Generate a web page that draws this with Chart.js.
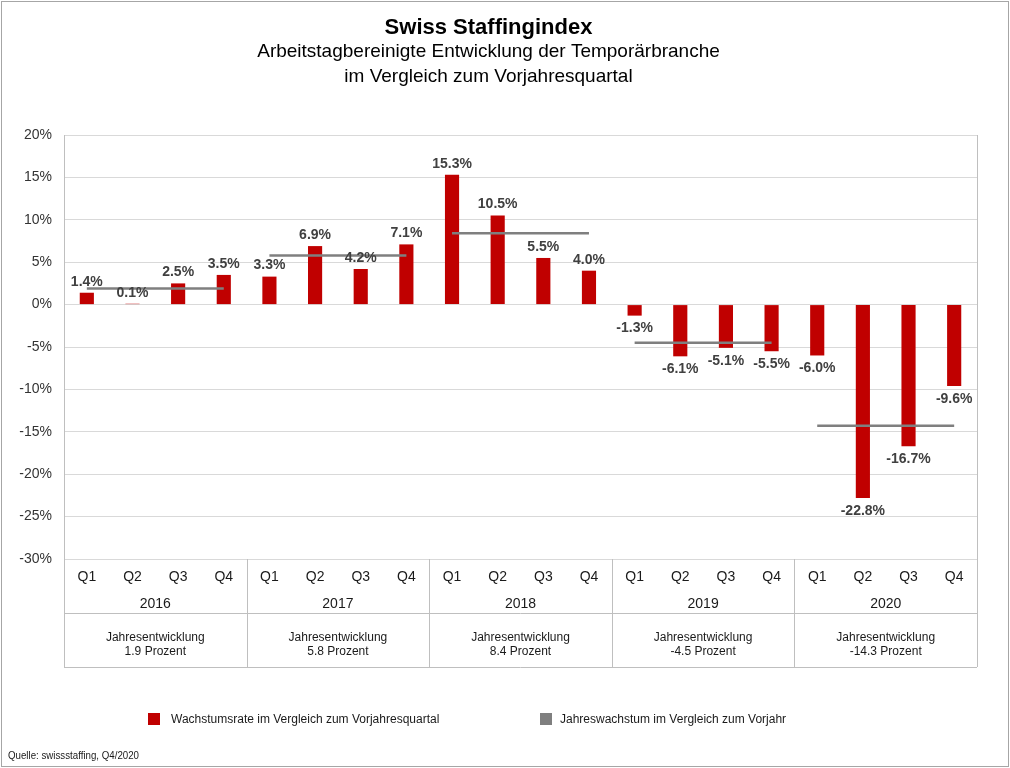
<!DOCTYPE html>
<html>
<head>
<meta charset="utf-8">
<script src="https://cdn.jsdelivr.net/npm/chart.js@4"></script>
<style>
  html, body { margin: 0; padding: 0; background: #ffffff; }
  #wrap { width: 1010px; height: 768px; position: relative; }
</style>
</head>
<body>
<div id="wrap"><canvas id="c" width="1010" height="768"></canvas></div>
<script>
// ---- Data ----
const quarters = ['Q1','Q2','Q3','Q4','Q1','Q2','Q3','Q4','Q1','Q2','Q3','Q4','Q1','Q2','Q3','Q4','Q1','Q2','Q3','Q4'];
const years = ['2016','2017','2018','2019','2020'];
const quarterlyGrowth = [1.4, 0.1, 2.5, 3.5, 3.3, 6.9, 4.2, 7.1, 15.3, 10.5, 5.5, 4.0, -1.3, -6.1, -5.1, -5.5, -6.0, -22.8, -16.7, -9.6];
const annualGrowth = [1.9, 5.8, 8.4, -4.5, -14.3];
const tableHeading = 'Jahresentwicklung';
const tableUnit = 'Prozent';
const barLabel = 'Wachstumsrate im Vergleich zum Vorjahresquartal';
const lineLabel = 'Jahreswachstum im Vergleich zum Vorjahr';
const titleText = 'Swiss Staffingindex';
const subtitleLines = ['Arbeitstagbereinigte Entwicklung der Temporärbranche', 'im Vergleich zum Vorjahresquartal'];
const sourceText = 'Quelle: swissstaffing, Q4/2020';
const yMin = -30, yMax = 20, yStep = 5;

const annualPerQuarter = quarters.map((q, i) => annualGrowth[Math.floor(i / 4)]);

const FONT = '"Liberation Sans", Arial, Helvetica, sans-serif';
const RED = '#C00000';
const GREY_LINE = '#7f7f7f';

const overlay = {
  id: 'overlay',
  afterDatasetsDraw(chart) {
    const ctx = chart.ctx;
    const meta = chart.getDatasetMeta(1);
    ctx.save();
    ctx.font = 'bold 14px ' + FONT;
    ctx.fillStyle = '#404040';
    ctx.textAlign = 'center';
    meta.data.forEach((bar, i) => {
      const v = quarterlyGrowth[i];
      const txt = v.toFixed(1) + '%';
      if (v >= 0) { ctx.textBaseline = 'bottom'; ctx.fillText(txt, bar.x, bar.y - 4); }
      else { ctx.textBaseline = 'top'; ctx.fillText(txt, bar.x, bar.y + 6); }
    });
    ctx.restore();
  },
  afterDraw(chart) {
    const ctx = chart.ctx;
    const ca = chart.chartArea;
    const x = chart.scales.x;
    const half = (x.getPixelForValue(1) - x.getPixelForValue(0)) / 2;
    const tableTop = ca.bottom + 54;
    const tableBottom = ca.bottom + 108;
    ctx.save();
    // separators and table
    ctx.strokeStyle = '#bfbfbf';
    ctx.lineWidth = 1;
    ctx.beginPath();
    for (let k = 0; k <= years.length; k++) {
      const px = Math.round(k < years.length ? x.getPixelForValue(k * 4) - half : x.getPixelForValue(quarters.length - 1) + half) + 0.5;
      ctx.moveTo(px, k === 0 || k === years.length ? ca.top : ca.bottom);
      ctx.lineTo(px, tableBottom);
    }
    ctx.moveTo(ca.left, Math.round(tableTop) + 0.5);
    ctx.lineTo(ca.right, Math.round(tableTop) + 0.5);
    ctx.moveTo(ca.left, Math.round(tableBottom) + 0.5);
    ctx.lineTo(ca.right, Math.round(tableBottom) + 0.5);
    ctx.stroke();

    // year labels and table text
    ctx.textAlign = 'center';
    ctx.textBaseline = 'middle';
    years.forEach((yr, k) => {
      const cx = (x.getPixelForValue(k * 4) + x.getPixelForValue(k * 4 + 3)) / 2;
      ctx.font = '14px ' + FONT;
      ctx.fillStyle = '#1a1a1a';
      ctx.fillText(yr, cx, ca.bottom + 45);
      ctx.font = '12px ' + FONT;
      ctx.fillStyle = '#1a1a1a';
      ctx.fillText(tableHeading, cx, tableTop + 25);
      ctx.fillText(annualGrowth[k].toFixed(1) + ' ' + tableUnit, cx, tableTop + 39);
    });

    // legend
    const ds = chart.data.datasets;
    const legendY = 719;
    const items = [
      { sx: 148, tx: 171, color: ds[1].backgroundColor, label: ds[1].label },
      { sx: 540, tx: 560, color: GREY_LINE, label: ds[0].label }
    ];
    ctx.textAlign = 'left';
    ctx.font = '12px ' + FONT;
    items.forEach(it => {
      ctx.fillStyle = it.color;
      ctx.fillRect(it.sx, legendY - 6, 12, 12);
      ctx.fillStyle = '#1a1a1a';
      ctx.fillText(it.label, it.tx, legendY + 1);
    });

    // source (condensed)
    ctx.font = '11px ' + FONT;
    ctx.fillStyle = '#1a1a1a';
    const w = ctx.measureText(sourceText).width;
    const sx = Math.min(1, 131 / w);
    ctx.save();
    ctx.translate(8, 756);
    ctx.scale(sx, 1);
    ctx.fillText(sourceText, 0, 0);
    ctx.restore();

    // outer frame
    ctx.strokeStyle = '#a6a6a6';
    ctx.strokeRect(1.5, 1.5, 1007, 765);
    ctx.restore();
  }
};

new Chart(document.getElementById('c'), {
  data: {
    labels: quarters,
    datasets: [
      {
        type: 'line',
        label: lineLabel,
        data: annualPerQuarter,
        borderColor: GREY_LINE,
        borderWidth: 2.5,
        pointRadius: 0,
        fill: false,
        order: 0,
        segment: {
          borderColor: c => (c.p0DataIndex % 4 === 3 ? 'rgba(0,0,0,0)' : GREY_LINE)
        }
      },
      {
        type: 'bar',
        label: barLabel,
        data: quarterlyGrowth,
        backgroundColor: RED,
        barPercentage: 0.31,
        categoryPercentage: 1.0,
        order: 1
      }
    ]
  },
  options: {
    responsive: false,
    animation: false,
    devicePixelRatio: 1,
    layout: { padding: { left: 0, right: 33, top: 0, bottom: 101 } },
    plugins: {
      legend: { display: false },
      tooltip: { enabled: false },
      title: {
        display: true,
        text: titleText,
        color: '#000000',
        font: { family: FONT, size: 22, weight: 'bold', lineHeight: 1.0 },
        padding: { top: 17, bottom: 0 }
      },
      subtitle: {
        display: true,
        text: subtitleLines,
        color: '#000000',
        font: { family: FONT, size: 19, weight: 'normal', lineHeight: 25 / 19 },
        padding: { top: 0, bottom: 46 }
      }
    },
    scales: {
      x: {
        grid: { display: false, drawTicks: false },
        border: { display: false },
        ticks: { color: '#1a1a1a', font: { family: FONT, size: 14 }, padding: 10, maxRotation: 0, autoSkip: false },
        afterFit: s => { s.height = 108; }
      },
      y: {
        min: yMin,
        max: yMax,
        ticks: {
          stepSize: yStep,
          color: '#333333',
          font: { family: FONT, size: 14 },
          padding: 12,
          callback: v => v + '%'
        },
        grid: { color: '#d9d9d9', drawTicks: false },
        border: { display: true, color: '#d9d9d9' },
        afterFit: s => { s.width = 64; }
      }
    }
  },
  plugins: [overlay]
});
</script>
</body>
</html>
